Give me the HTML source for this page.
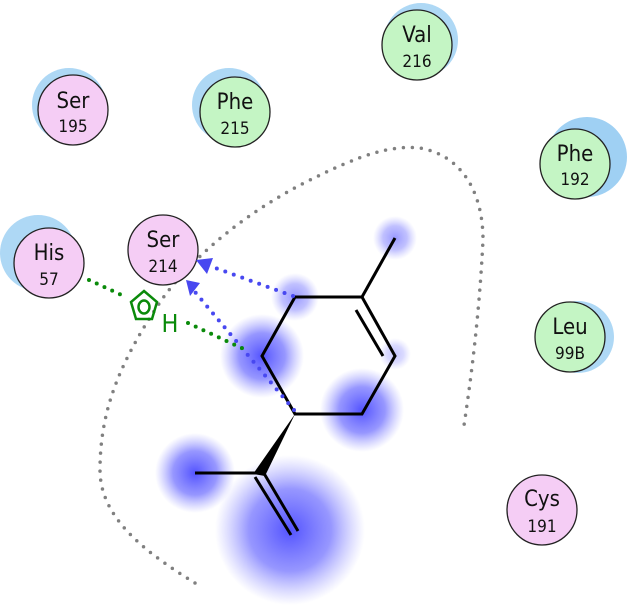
<!DOCTYPE html>
<html><head><meta charset="utf-8"><style>
html,body{margin:0;padding:0;background:#fff;}
svg{display:block;}
text{font-family:"DejaVu Sans Condensed","Liberation Sans",sans-serif;text-anchor:middle;fill:#111;}
</style></head><body>
<svg width="630" height="608" viewBox="0 0 630 608" xmlns="http://www.w3.org/2000/svg">
<defs>
<radialGradient id="b"><stop offset="0" stop-color="#4a4aff" stop-opacity="0.95"/><stop offset="0.55" stop-color="#6a6aff" stop-opacity="0.7"/><stop offset="1" stop-color="#9090ff" stop-opacity="0"/></radialGradient>
</defs>
<circle cx="290" cy="530" r="75" fill="url(#b)"/>
<circle cx="195" cy="473" r="40" fill="url(#b)"/>
<circle cx="262" cy="356" r="42" fill="url(#b)"/>
<circle cx="362" cy="410" r="42" fill="url(#b)"/>
<circle cx="295" cy="297" r="24" fill="url(#b)" opacity="0.6"/>
<circle cx="395" cy="238" r="22" fill="url(#b)" opacity="0.6"/>
<circle cx="395" cy="354" r="16" fill="url(#b)" opacity="0.35"/>
<path d="M195,583 C150,555 100,520 100,470 C100,410 120,360 165,295 C200,250 250,210 310,180 C360,155 390,145 420,148 C460,155 483,190 483,240 C480,300 474,360 463,432" fill="none" stroke="#808080" stroke-width="3.5" stroke-linecap="round" stroke-dasharray="0 9"/>
<circle cx="69" cy="105" r="37" fill="#aed8f5"/>
<circle cx="229" cy="105" r="37" fill="#aed8f5"/>
<circle cx="421" cy="40" r="37" fill="#aed8f5"/>
<circle cx="587" cy="157" r="40" fill="#9fd0f3"/>
<circle cx="38" cy="253" r="38" fill="#aed8f5"/>
<circle cx="578" cy="337" r="36" fill="#aed8f5"/>
<g stroke="#222" stroke-width="1.3">
<circle cx="73" cy="110" r="35" fill="#f5cdf5"/>
<circle cx="235" cy="112" r="35" fill="#c4f5c4"/>
<circle cx="417" cy="45" r="35" fill="#c4f5c4"/>
<circle cx="575" cy="164" r="35" fill="#c4f5c4"/>
<circle cx="49" cy="263" r="35" fill="#f5cdf5"/>
<circle cx="163" cy="250" r="35" fill="#f5cdf5"/>
<circle cx="570" cy="337" r="35" fill="#c4f5c4"/>
<circle cx="542" cy="510" r="35" fill="#f5cdf5"/>
</g>
<g font-size="22">
<text x="73" y="108">Ser</text><text x="235" y="109">Phe</text><text x="417" y="42">Val</text>
<text x="575" y="161">Phe</text><text x="49" y="260">His</text><text x="163" y="247">Ser</text>
<text x="570" y="334">Leu</text><text x="542" y="506">Cys</text>
</g>
<g font-size="17">
<text x="73" y="132">195</text><text x="235" y="134">215</text><text x="417" y="67">216</text>
<text x="575" y="185">192</text><text x="49" y="285">57</text><text x="163" y="272">214</text>
<text x="570" y="359">99B</text><text x="542" y="532">191</text>
</g>
<g stroke="#000" stroke-width="3" fill="none" stroke-linejoin="miter">
<polyline points="295,297 362,297 395,356 362,414 295,414 262,356 295,297"/>
<line x1="356" y1="310" x2="383" y2="356"/>
<line x1="362" y1="297" x2="395" y2="238"/>
<line x1="258" y1="473" x2="195" y2="473"/>
<line x1="262" y1="470" x2="298" y2="531"/>
<line x1="255" y1="477" x2="291" y2="535"/>
</g>
<polygon points="295,414 253,474 265,476" fill="#000"/>
<g stroke="#4848f0" stroke-width="4" stroke-linecap="round" stroke-dasharray="0 9" fill="none">
<line x1="293" y1="296" x2="210" y2="266"/>
<line x1="294" y1="410" x2="195" y2="292"/>
</g>
<polygon points="196,260 213,258 207,274" fill="#4848f0"/>
<polygon points="186,280 200,283 190,296" fill="#4848f0"/>
<g stroke="#0a8a0a" stroke-width="4" stroke-linecap="round" stroke-dasharray="0 8.5" fill="none">
<line x1="89" y1="280" x2="126" y2="297"/>
<line x1="188" y1="323" x2="248" y2="351"/>
</g>
<polygon points="144,291 157,302 152,319 136,319 131,302" fill="none" stroke="#0a8a0a" stroke-width="2.5"/>
<ellipse cx="144" cy="307" rx="5.5" ry="6.5" fill="none" stroke="#0a8a0a" stroke-width="2.5"/>
<text x="170" y="332" font-size="25" style="fill:#0a8a0a">H</text>
</svg>
</body></html>
